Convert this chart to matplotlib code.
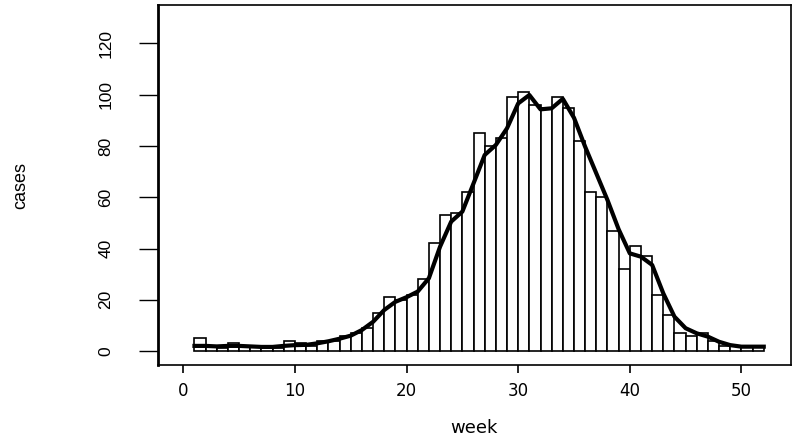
import matplotlib
matplotlib.use("Agg")
import matplotlib.pyplot as plt

# weekly case counts (bars span week .. week+1)
weeks = list(range(1, 52))
cases = [5, 2, 1, 3, 2, 2, 1, 1, 4, 3,
         2, 4, 4, 6, 7, 9, 15, 21, 20, 22,
         28, 42, 53, 54, 62, 85, 80, 83, 99, 101,
         96, 95, 99, 95, 82, 62, 60, 47, 32, 41,
         37, 22, 14, 7, 6, 7, 4, 2, 2, 2,
         2]

# smoothed curve, read at integer weeks
smooth_weeks = list(range(1, 53))
smooth = [2.0, 2.0, 1.8, 2.0, 2.0, 1.8, 1.6, 1.6, 2.0, 2.3,
          2.4, 3.0, 3.8, 4.8, 6.0, 8.2, 11.4, 16.0, 19.2, 21.0,
          23.2, 28.4, 40.7, 50.5, 54.4, 65.4, 76.5, 80.4, 86.9, 96.6,
          99.9, 94.3, 94.7, 98.4, 91.0, 79.7, 69.3, 58.9, 47.5, 38.1,
          36.8, 33.6, 22.5, 13.4, 8.9, 6.9, 5.6, 3.6, 2.3, 1.7,
          1.7, 1.7]

x_ticks = [0, 10, 20, 30, 40, 50]
y_ticks = [0, 20, 40, 60, 80, 100, 120]

fig = plt.figure(figsize=(7.93, 4.41), dpi=100)
ax = fig.add_axes([0.1992, 0.1723, 0.7977, 0.8163])

ax.bar(weeks, cases, width=1.0, align="edge", color="white",
       edgecolor="black", linewidth=1.2, zorder=2)
ax.plot(smooth_weeks, smooth, color="black", linewidth=3.0, zorder=3,
        solid_joinstyle="round")

ax.set_xlim(-2.27, 54.4)
ax.set_ylim(-5.46, 135.0)

ax.set_xticks(x_ticks)
ax.set_xticklabels([str(t) for t in x_ticks], fontsize=12, family="DejaVu Sans")
ax.set_yticks(y_ticks)
ax.set_yticklabels([str(t) for t in y_ticks], fontsize=12.5, rotation=90,
                   va="center", family="Liberation Sans")

ax.tick_params(axis="y", direction="out", length=14, width=1.0, pad=18)
ax.tick_params(axis="x", direction="out", length=6, width=1.2, pad=6)

for side in ["left", "bottom", "top", "right"]:
    ax.spines[side].set_linewidth(1.2)
ax.spines["left"].set_linewidth(2.0)

ax.set_xlabel("week", fontsize=13, family="DejaVu Sans", labelpad=14)
ax.set_ylabel("cases", fontsize=13, family="Liberation Sans", labelpad=50)

fig.savefig("out.png", dpi=100, facecolor="white")
